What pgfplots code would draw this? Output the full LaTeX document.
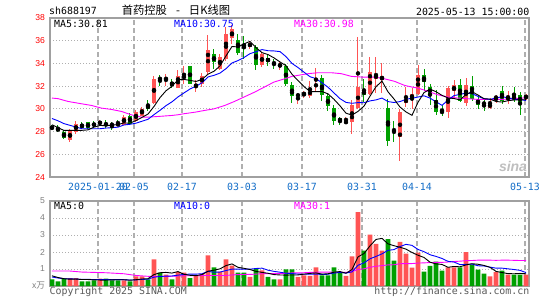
\documentclass[border=0pt]{standalone}
\usepackage{pgfplots}
\pgfplotsset{compat=1.18}
\usepackage{pgfplotstable}
\usepackage{fontspec}
\setmainfont{DejaVu Sans Mono}
\newfontfamily\cjk{Noto Sans CJK SC}
\newfontfamily\lib{Liberation Sans}
\definecolor{redc}{RGB}{255,84,84}
\definecolor{greenc}{RGB}{0,160,0}
\definecolor{framec}{RGB}{160,160,160}
\definecolor{gridc}{RGB}{175,175,175}
\definecolor{datec}{RGB}{20,110,200}
\definecolor{magc}{RGB}{255,0,255}
\definecolor{bluec}{RGB}{0,0,255}
\definecolor{textg}{RGB}{90,90,90}
\newcommand{\mono}{\fontsize{9.9}{11}\selectfont}

% red (rising) candles: index, open, high, low, close, volume
\pgfplotstableread{
i O H L C V
3 27.3 28.25 27.05 28.05 0.47
4 28.0 28.9 27.8 28.7 0.47
8 28.75 29.05 28.5 28.8 0.43
12 28.6 29.45 28.55 29.3 0.33
14 28.9 29.9 28.85 29.7 0.57
15 29.4 30.2 29.35 30.0 0.57
17 30.55 32.9 30.4 32.65 1.57
19 32.6 33.1 32.0 32.7 0.67
21 31.85 33.4 31.8 32.85 0.82
22 32.78 33.8 32.2 32.82 0.78
24 31.9 32.5 31.5 32.2 0.6
25 32.2 33.2 31.9 32.9 0.7
26 33.25 36.5 33.0 35.15 1.8
28 33.55 34.85 33.4 34.55 0.85
29 34.35 37.2 34.25 36.6 1.57
30 36.2 37.4 35.75 37.05 1.2
33 35.6 35.95 35.3 35.65 0.53
35 33.85 35.0 33.7 34.85 0.92
38 33.8 34.25 33.4 33.85 0.39
41 31.1 31.4 30.45 31.3 0.53
42 31.3 31.6 30.95 31.35 0.63
43 31.1 32.45 31.0 31.7 0.59
44 32.05 33.6 31.55 32.1 1.1
49 28.8 29.3 28.75 28.85 0.59
50 28.85 30.75 27.8 30.35 1.75
51 30.05 36.3 29.95 31.9 4.35
53 31.35 34.55 31.2 33.25 3.02
54 32.65 34.55 31.4 33.0 2.48
55 32.65 34.0 31.4 32.8 2.08
58 27.5 30.0 25.45 29.7 2.6
59 30.55 31.9 30.15 30.85 1.9
60 30.9 31.8 30.0 31.3 1.08
61 31.35 33.9 31.25 32.95 1.96
66 29.75 32.05 29.2 31.8 1.1
67 31.55 32.5 31.05 32.1 1.1
69 30.55 32.75 30.25 32.1 2.0
73 30.05 31.0 30.0 30.5 0.56
74 30.95 31.2 30.55 31.05 0.81
76 30.9 31.6 30.45 30.95 0.67
79 30.95 31.3 30.8 31.15 0.67
}\redtab

% green (falling) candles
\pgfplotstableread{
i O H L C V
0 28.35 28.6 28.1 28.3 0.39
1 28.25 28.55 27.95 28.1 0.27
2 27.95 28.1 27.35 27.4 0.43
5 28.7 28.8 28.25 28.3 0.27
6 28.8 28.85 28.25 28.3 0.27
7 28.65 28.9 28.3 28.6 0.33
9 28.7 29.0 28.3 28.55 0.43
10 28.62 28.85 28.1 28.6 0.33
11 28.7 29.0 28.5 28.55 0.33
13 29.35 29.6 28.55 28.7 0.27
16 30.35 30.8 29.8 30.0 0.39
18 32.7 32.95 32.0 32.6 0.78
20 32.35 32.65 31.8 32.0 0.39
23 33.8 33.8 32.2 32.2 0.47
27 34.8 35.3 33.5 34.1 1.1
31 36.1 36.6 34.7 34.95 0.78
32 35.75 36.45 34.4 35.45 0.78
34 35.45 35.65 33.4 33.85 1.0
36 34.5 34.8 33.8 34.1 0.53
37 34.05 34.4 33.5 34.0 0.39
39 33.8 33.95 32.0 32.2 0.98
40 32.1 32.35 30.55 31.1 0.98
45 32.7 32.95 30.7 31.2 0.63
46 31.1 31.4 29.85 30.25 0.63
47 30.05 30.3 28.55 28.95 1.1
48 29.2 29.3 28.55 28.85 0.78
52 31.6 32.65 30.6 31.25 2.08
56 30.05 30.9 26.7 27.2 2.76
57 28.15 28.9 27.05 28.1 1.5
62 33.0 33.55 31.55 32.35 0.85
63 31.95 32.2 30.3 31.25 1.19
64 30.75 31.7 29.5 29.7 1.44
65 29.75 30.3 29.4 29.7 0.9
68 32.1 32.6 30.6 30.65 1.1
70 32.05 32.85 30.65 30.9 1.25
71 30.9 31.2 29.95 30.35 0.96
72 30.5 30.75 29.85 30.45 0.73
75 31.55 32.0 30.45 30.65 0.9
77 31.25 31.9 30.6 30.75 0.67
78 31.2 31.5 29.45 30.55 0.67
}\greentab

% price moving averages MA5, MA10
\pgfplotstableread{
i m5 m10
0 28.6 29.15
1 28.35 28.95
2 28.1 28.7
3 28.1 28.55
4 28.11 28.4
5 28.11 28.25
6 28.15 28.25
7 28.39 28.25
8 28.54 28.25
9 28.51 28.31
10 28.57 28.34
11 28.62 28.39
12 28.76 28.58
13 28.74 28.64
14 28.97 28.74
15 29.25 28.91
16 29.54 29.08
17 30.21 29.49
18 30.99 29.87
19 31.59 30.28
20 31.99 30.62
21 32.56 31.05
22 32.59 31.4
23 32.51 31.75
24 32.41 32.0
25 32.59 32.29
26 33.05 32.81
27 33.31 32.95
28 33.78 33.15
29 34.66 33.54
30 35.49 34.04
31 35.45 34.25
32 35.72 34.52
33 35.94 34.86
34 35.39 35.03
35 34.95 35.22
36 34.78 35.12
37 34.49 35.1
38 34.13 35.04
39 33.8 34.6
40 33.05 34.0
41 32.49 33.64
42 31.96 33.23
43 31.53 32.83
44 31.51 32.66
45 31.53 32.29
46 31.32 31.91
47 30.84 31.4
48 30.27 30.9
49 29.62 30.57
50 29.45 30.49
51 29.78 30.55
52 30.24 30.54
53 31.12 30.7
54 31.95 30.79
55 32.44 30.95
56 31.5 30.64
57 30.87 30.56
58 30.16 30.64
59 29.73 30.84
60 29.43 30.94
61 30.58 31.04
62 31.43 31.15
63 31.74 30.95
64 31.51 30.62
65 31.19 30.31
66 30.96 30.77
67 30.91 31.17
68 30.79 31.27
69 31.27 31.39
70 31.51 31.35
71 31.22 31.09
72 30.89 30.9
73 30.86 30.83
74 30.65 30.96
75 30.6 31.06
76 30.72 30.97
77 30.78 30.84
78 30.79 30.83
79 30.81 30.73
}\matab

% price MA30
\pgfplotstableread{
i m30
0 30.95
1 30.9
2.7 30.65
4.9 30.45
6.6 30.3
8.2 30.07
9.9 29.95
11.6 29.77
13.2 29.48
14.9 29.27
16 29.27
17.7 29.33
20 29.42
21 29.48
22 29.57
24 29.72
25.4 29.86
27 30.0
28.8 30.3
30.4 30.65
32 31.04
33.8 31.48
35.4 31.92
37 32.36
38.8 32.65
40 32.86
41 32.95
42.7 33.1
44.3 33.18
46.6 33.18
48.2 33.1
49.9 32.86
51.6 32.8
53.8 32.8
55.4 32.65
57.1 32.42
58.8 32.06
60 31.92
61 31.83
62.7 31.54
64.3 31.24
66 31.04
67.7 30.95
69.3 30.89
71 30.83
72.7 30.83
74.9 30.83
77.1 30.89
79 30.98
}\mathirty

% volume moving averages MA5, MA10
\pgfplotstableread{
i v5 v10
0 0.6 0.53
1 0.5 0.47
2 0.43 0.43
3 0.4 0.42
4 0.41 0.41
5 0.38 0.39
6 0.38 0.39
7 0.36 0.38
8 0.35 0.38
9 0.35 0.38
10 0.36 0.37
11 0.37 0.38
12 0.37 0.37
13 0.34 0.35
14 0.37 0.36
15 0.41 0.39
16 0.43 0.40
17 0.67 0.52
18 0.78 0.56
19 0.80 0.58
20 0.76 0.59
21 0.85 0.64
22 0.69 0.68
23 0.63 0.70
24 0.61 0.70
25 0.67 0.72
26 0.87 0.86
27 0.93 0.81
28 1.01 0.82
29 1.20 0.91
30 1.30 0.99
31 1.10 0.99
32 1.04 0.99
33 0.97 0.99
34 0.86 1.03
35 0.80 1.05
36 0.75 0.93
37 0.67 0.86
38 0.65 0.81
39 0.64 0.75
40 0.65 0.73
41 0.65 0.70
42 0.70 0.69
43 0.74 0.69
44 0.77 0.70
45 0.70 0.68
46 0.72 0.69
47 0.81 0.76
48 0.85 0.80
49 0.75 0.76
50 0.97 0.83
51 1.71 1.22
52 1.91 1.36
53 2.36 1.60
54 2.74 1.74
55 2.80 1.89
56 2.48 2.10
57 2.37 2.14
58 2.28 2.32
59 2.17 2.45
60 1.97 2.39
61 1.81 2.15
62 1.68 2.02
63 1.40 1.84
64 1.30 1.74
65 1.27 1.62
66 1.10 1.45
67 1.15 1.41
68 1.13 1.26
69 1.24 1.27
70 1.31 1.29
71 1.28 1.19
72 1.21 1.18
73 1.10 1.11
74 0.86 1.05
75 0.79 1.05
76 0.73 1.01
77 0.72 0.97
78 0.74 0.92
79 0.72 0.79
}\vmatab

% volume MA30
\pgfplotstableread{
i v30
0 0.88
3 0.88
5 0.82
9 0.78
12 0.72
14 0.62
16 0.57
19 0.56
22 0.6
26 0.62
29 0.62
30 0.65
31 0.67
32 0.68
33 0.68
34 0.70
35 0.72
36 0.73
37 0.73
38 0.73
39 0.75
40 0.77
41 0.77
42 0.78
43 0.80
44 0.81
45 0.82
46 0.82
47 0.81
48 0.81
49 0.80
50 0.85
51 0.97
52 1.01
53 1.10
54 1.16
55 1.20
56 1.24
57 1.25
58 1.31
59 1.32
60 1.32
61 1.35
62 1.36
63 1.38
64 1.39
65 1.39
66 1.41
67 1.44
68 1.46
69 1.49
70 1.50
71 1.52
72 1.52
73 1.52
74 1.51
75 1.52
76 1.52
77 1.51
78 1.50
79 1.50
}\vmathirty

\pgfplotsset{
  kline/.style={
    scale only axis, width=479pt,
    xmin=-0.33, xmax=79.5,
    axis line style={draw=framec, line width=1.5pt},
    major tick length=0pt, tick style={draw=none},
    xtick={7.67,13.67,21.67,31.67,41.67,51.67,60.83,78.83},
    xmajorgrids, ymajorgrids,
    major x grid style={draw=gridc, line width=1.2pt, dash pattern=on 5pt off 3pt},
    major y grid style={draw=gridc, line width=1pt, dash pattern=on 1pt off 2pt},
    yticklabel style={anchor=east, inner sep=0pt, outer sep=0pt, xshift=-5pt,
      font=\lib\fontsize{8.6}{10}\selectfont},
  },
  wick/.style={only marks, mark=none, forget plot,
    error bars/.cd, y dir=both, y explicit, error mark=none,
    error bar style={draw=#1, line width=1pt}},
  body/.style={only marks, mark=none, forget plot,
    error bars/.cd, y dir=both, y explicit, error mark=none,
    error bar style={draw=#1, line width=4.6pt}},
}

\begin{document}
\begin{tikzpicture}
\useasboundingbox (0,0) rectangle (545pt,300pt);
\fill[white] (0,0) rectangle (545pt,300pt);

% ---------- price panel ----------
\begin{axis}[kline, at={(50pt,123pt)}, anchor=south west, height=159pt,
  ymin=24, ymax=38, ytick={24,26,28,30,32,34,36,38},
  yticklabels={24,26,28,30,32,34,36,38},
  yticklabel style={color=red},
  xticklabels={2025-01-20,02-05,02-17,03-03,03-17,03-31,04-14,05-13},
  xticklabel style={color=datec, font=\mono, anchor=north, inner sep=0pt, outer sep=0pt, yshift=-6pt},
]
\addplot[wick=redc] table[x=i, y expr={(\thisrow{H}+\thisrow{L})/2}, y error expr={(\thisrow{H}-\thisrow{L})/2}] {\redtab};
\addplot[wick=greenc] table[x=i, y expr={(\thisrow{H}+\thisrow{L})/2}, y error expr={(\thisrow{H}-\thisrow{L})/2}] {\greentab};
\addplot[body=redc] table[x=i, y expr={(\thisrow{O}+\thisrow{C})/2}, y error expr={max(abs(\thisrow{C}-\thisrow{O})/2,0.04)}] {\redtab};
\addplot[body=greenc] table[x=i, y expr={(\thisrow{O}+\thisrow{C})/2}, y error expr={max(abs(\thisrow{C}-\thisrow{O})/2,0.04)}] {\greentab};
\addplot[magc, line width=0.9pt, mark=none] table[x=i, y=m30] {\mathirty};
\addplot[bluec, line width=0.9pt, mark=none] table[x=i, y=m10] {\matab};
\addplot[black, line width=0.9pt, mark=none] table[x=i, y=m5] {\matab};
\end{axis}

% ---------- volume panel ----------
\begin{axis}[kline, at={(50pt,14pt)}, anchor=south west, height=85pt,
  ymin=0, ymax=5, ytick={0,1,2,3,4,5},
  yticklabels={{\cjk x万},1,2,3,4,5},
  yticklabel style={color=gray},
  xticklabels={},
]
\addplot[ybar, bar width=4.6pt, bar shift=0pt, fill=redc, draw=none] table[x=i, y=V] {\redtab};
\addplot[ybar, bar width=4.6pt, bar shift=0pt, fill=greenc, draw=none] table[x=i, y=V] {\greentab};
\addplot[magc, line width=0.9pt, mark=none] table[x=i, y=v30] {\vmathirty};
\addplot[bluec, line width=0.9pt, mark=none] table[x=i, y=v10] {\vmatab};
\addplot[black, line width=0.9pt, mark=none] table[x=i, y=v5] {\vmatab};
\end{axis}

% ---------- texts ----------
\node[anchor=west, inner sep=0pt] at (49pt,289pt) {\mono sh688197};
\node[inner sep=0pt] at (176pt,289.5pt) {\cjk\fontsize{11.3}{13}\selectfont 首药控股\hspace{9pt}-\hspace{9pt}日K线图};
\node[anchor=east, inner sep=0pt] at (529.5pt,288pt) {\mono 2025-05-13 15:00:00};
\node[anchor=west, inner sep=0pt] at (54pt,276pt) {\mono MA5:30.81};
\node[anchor=west, inner sep=0pt, text=bluec] at (174pt,276pt) {\mono MA10:30.75};
\node[anchor=west, inner sep=0pt, text=magc] at (294pt,276pt) {\mono MA30:30.98};
\node[anchor=west, inner sep=0pt] at (54pt,94pt) {\mono MA5:0};
\node[anchor=west, inner sep=0pt, text=bluec] at (174pt,94pt) {\mono MA10:0};
\node[anchor=west, inner sep=0pt, text=magc] at (294pt,94pt) {\mono MA30:1};
\node[anchor=west, inner sep=0pt, text=textg] at (49.5pt,8pt) {\mono Copyright 2025 SINA.COM};
\node[anchor=east, inner sep=0pt, text=textg] at (529.5pt,8pt) {\mono http://finance.sina.com.cn};
\node[inner sep=0pt, text=black!25] at (513pt,134pt) {\lib\bfseries\itshape\fontsize{14}{16}\selectfont sina};
\end{tikzpicture}
\end{document}
